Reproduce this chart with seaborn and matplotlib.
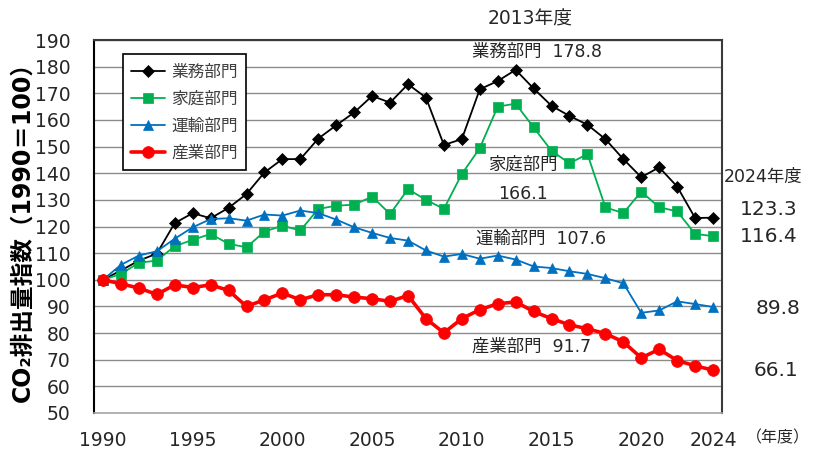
import matplotlib
matplotlib.use('Agg')
import matplotlib.pyplot as plt
import seaborn as sns
from matplotlib.ticker import MultipleLocator, FixedLocator

# Datos (índice, 1990 = 100)
years = list(range(1990, 2025))
gyomu = [100.0, 103.5, 107.2, 109.8, 121.3, 125.0, 123.1, 127.0, 132.2, 140.3,
	145.3, 145.3, 153.0, 158.0, 162.8, 169.0, 166.5, 173.4, 168.4, 150.6,
	152.8, 171.5, 174.6, 178.8, 171.8, 165.3, 161.5, 158.2, 152.8, 145.3,
	138.5, 142.2, 135.0, 123.2, 123.3]
katei = [100.0, 102.2, 106.4, 107.2, 112.6, 115.0, 117.2, 113.5, 112.2, 118.1,
	120.3, 118.5, 126.6, 127.8, 128.2, 131.2, 124.7, 134.0, 130.0, 126.6,
	139.7, 149.4, 165.0, 166.1, 157.2, 148.4, 143.7, 147.2, 127.2, 125.0,
	133.1, 127.2, 125.7, 117.2, 116.4]
unyu = [100.0, 105.6, 109.1, 110.7, 115.4, 119.7, 122.8, 123.1, 122.2, 124.5,
	124.1, 126.0, 125.0, 122.6, 119.7, 117.6, 115.7, 114.7, 111.0, 108.7,
	109.7, 107.9, 109.1, 107.6, 105.0, 104.4, 103.2, 102.2, 100.6, 98.7,
	87.6, 88.5, 91.9, 90.9, 89.8]
sangyo = [100.0, 98.5, 96.9, 94.5, 98.1, 97.1, 98.1, 96.0, 90.0, 92.5,
	95.0, 92.5, 94.4, 94.4, 93.5, 92.9, 91.9, 94.1, 85.4, 80.1,
	85.4, 88.8, 91.0, 91.7, 88.1, 85.4, 83.1, 81.6, 79.8, 76.7,
	70.7, 73.9, 69.7, 67.7, 66.1]

sector_labels = ['業務部門', '家庭部門', '運輸部門', '産業部門']
xtick_years = [1990, 1995, 2000, 2005, 2010, 2015, 2020, 2024]

JP = ['DejaVu Sans', 'Noto Sans CJK JP']
TXT = '#262626'


def main() -> None:
	sns.set_style('white')
	plt.rcParams['font.family'] = JP

	fig = plt.figure(figsize=(8.17, 4.53), dpi=100)
	ax = fig.add_axes([94 / 817, 40 / 453, 628 / 817, 373 / 453])

	# estilos de cada serie: color, marcador, tamaño, grosor
	styles = [
		(gyomu, '#000000', 'D', 6.5, 1.3),
		(katei, '#00B050', 's', 6.5, 1.3),
		(unyu, '#0070C0', '^', 7.5, 1.3),
		(sangyo, '#FF0000', 'o', 8.5, 2.6),
	]
	for (vals, col, mk, ms, lw), lab in zip(styles, sector_labels):
		sns.lineplot(x=years, y=vals, ax=ax, color=col, marker=mk, markersize=ms,
			markeredgecolor=col, markeredgewidth=0.5, linewidth=lw, label=lab)

	ax.set_xlim(1989.5, 2024.5)
	ax.set_ylim(50, 190)
	ax.yaxis.set_major_locator(MultipleLocator(10))
	ax.xaxis.set_major_locator(FixedLocator(xtick_years))
	ax.xaxis.set_minor_locator(FixedLocator([y + 0.5 for y in years[:-1]]))
	ax.grid(axis='y', color='#8c8c8c', linewidth=1.0)
	ax.set_axisbelow(True)

	ax.tick_params(axis='y', length=0, pad=17, labelsize=13.5, labelcolor=TXT)
	ax.tick_params(axis='x', which='major', length=0, pad=13, labelsize=13.5, labelcolor=TXT)
	ax.tick_params(axis='x', which='minor', direction='in', length=5, width=1, color='#9a9a9a')

	ax.spines['left'].set_color('#000000')
	ax.spines['left'].set_linewidth(1.5)
	for s in ['top', 'right']:
		ax.spines[s].set_color('#3a3a3a')
		ax.spines[s].set_linewidth(1.5)
	ax.spines['bottom'].set_color('#a6a6a6')
	ax.spines['bottom'].set_linewidth(1.2)

	ax.set_xlabel('')
	ax.set_ylabel('CO₂排出量指数（1990＝100）', fontsize=17, fontweight='bold', color='#000000')
	ax.yaxis.set_label_coords(-0.094, 0.5)

	leg = ax.legend(loc='upper left', bbox_to_anchor=(0.046, 0.962), borderaxespad=0,
		fancybox=False, framealpha=1, edgecolor='#000000', fontsize=12,
		handlelength=2.0, handletextpad=0.4, labelspacing=0.55, borderpad=0.5)
	leg.get_frame().set_linewidth(1.2)
	for t in leg.get_texts():
		t.set_color('#404040')

	# Anotaciones
	kw = dict(ha='center', va='center', color=TXT, clip_on=False)
	ax.text(2013.8, 197.8, '2013年度', fontsize=13.5, **kw)
	ax.text(2014.2, 185.4, '業務部門  178.8', fontsize=12.5, **kw)
	ax.text(2013.4, 143.1, '家庭部門', fontsize=12.5, **kw)
	ax.text(2013.4, 132.2, '166.1', fontsize=12.5, **kw)
	ax.text(2014.4, 115.4, '運輸部門  107.6', fontsize=12.5, **kw)
	ax.text(2013.9, 74.9, '産業部門  91.7', fontsize=12.5, **kw)
	ax.text(2026.8, 138.6, '2024年度', fontsize=12.5, **kw)
	ax.text(2027.1, 126.2, '123.3', fontsize=14.5, **kw)
	ax.text(2027.1, 116.1, '116.4', fontsize=14.5, **kw)
	ax.text(2027.6, 89.1, '89.8', fontsize=14.5, **kw)
	ax.text(2027.5, 65.9, '66.1', fontsize=14.5, **kw)
	ax.text(2027.6, 40.6, '（年度）', fontsize=11.5, **kw)

	fig.savefig('out.png', dpi=100)
	plt.close(fig)


if __name__ == '__main__':
	main()
